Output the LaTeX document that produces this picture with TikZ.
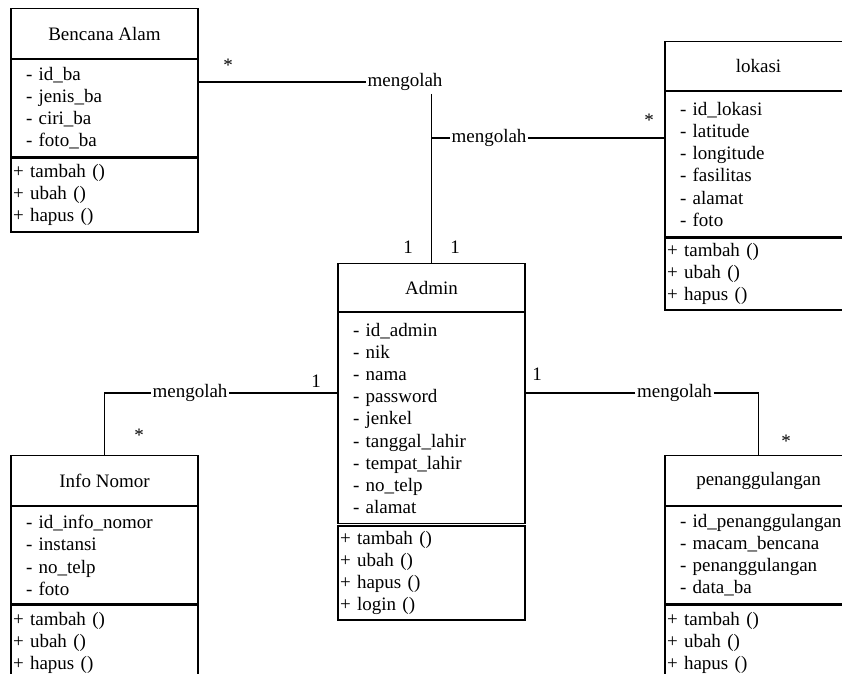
\documentclass[tikz,border=0pt]{standalone}
\usepackage{fontspec}
\setmainfont{Liberation Serif}
\usetikzlibrary{positioning}
\tikzset{
    classhead/.style = {rectangle, draw=black, line width=1.2pt, minimum width=187pt, minimum height=50pt, inner sep=0pt, anchor=north},
    classattr/.style = {rectangle, draw=black, line width=1.2pt, text width=157pt, inner xsep=15pt, inner ysep=0pt, align=left},
    classops/.style = {rectangle, draw=black, line width=1.2pt, text width=183pt, inner xsep=2pt, inner ysep=0pt, align=left},
    relname/.style = {inner xsep=1.5pt, inner ysep=3pt},
    mult/.style = {inner sep=0pt},
    edgen/.style = {-, line width=1.2pt, black},
}

\begin{document}
\begin{tikzpicture}[x=1pt, y=-1pt, font=\rmfamily\fontsize{19}{22.2}\selectfont]
  \useasboundingbox (0,0) rectangle (842,673);
  \clip (0,0) rectangle (842,673);

  % classes
  \node[classhead] (bencana) at (104.5,8) {Bencana Alam};
  \node[classattr, minimum height=97pt, below=0pt of bencana] (bencanaattr)
    {-~id\_ba\\ -~jenis\_ba\\ -~ciri\_ba\\ -~foto\_ba};
  \node[classops, minimum height=74pt, below=0pt of bencanaattr] (bencanaops)
    {+ tambah ()\\ + ubah ()\\ + hapus ()};

  \node[classhead, minimum height=49pt] (lokasi) at (758.5,41) {lokasi};
  \node[classattr, minimum height=145pt, below=0pt of lokasi] (lokasiattr)
    {-~id\_lokasi\\ -~latitude\\ -~longitude\\ -~fasilitas\\ -~alamat\\ -~foto};
  \node[classops, minimum height=72pt, below=0pt of lokasiattr] (lokasiops)
    {+ tambah ()\\ + ubah ()\\ + hapus ()};

  \node[classhead, minimum height=48pt] (admin) at (431.5,263) {Admin};
  \node[classattr, minimum height=211pt, below=0pt of admin] (adminattr)
    {-~id\_admin\\ -~nik\\ -~nama\\ -~password\\ -~jenkel\\ -~tanggal\_lahir\\ -~tempat\_lahir\\ -~no\_telp\\ -~alamat};
  \node[classops, minimum height=94pt, below=1pt of adminattr] (adminops)
    {+ tambah ()\\ + ubah ()\\ + hapus ()\\ + login ()};

  \node[classhead] (infonomor) at (104.5,455) {Info Nomor};
  \node[classattr, minimum height=97pt, below=0pt of infonomor] (infonomorattr)
    {-~id\_info\_nomor\\ -~instansi\\ -~no\_telp\\ -~foto};
  \node[classops, minimum height=76pt, below=0pt of infonomorattr] (infonomorops)
    {+ tambah ()\\ + ubah ()\\ + hapus ()};

  \node[classhead] (penanggulangan) at (758.5,455) {penanggulangan};
  \node[classattr, minimum height=97pt, below=0pt of penanggulangan] (penanggulanganattr)
    {\mbox{-~id\_penanggulangan}\\ -~macam\_bencana\\ -~penanggulangan\\ -~data\_ba};
  \node[classops, minimum height=76pt, below=0pt of penanggulanganattr] (penanggulanganops)
    {+ tambah ()\\ + ubah ()\\ + hapus ()};

  % relations
  \node[relname] (rel1) at (405,82) {mengolah};
  \node[relname] (rel2) at (489,138) {mengolah};
  \node[relname] (rel3) at (190,393) {mengolah};
  \node[relname] (rel4) at (674.5,393) {mengolah};

  \draw[edgen] (rel1.west -| bencanaattr.east) -- (rel1.west);
  \draw[edgen] (rel1.south -| admin.north) -- (admin.north);
  \draw[edgen] (admin.north) |- (rel2.west);
  \draw[edgen] (rel2.east) -- (rel2.east -| lokasiattr.west);
  \draw[edgen] (rel3.east) -- (rel3.east -| adminattr.west);
  \draw[edgen] (rel3.west) -| (infonomor.north);
  \draw[edgen] (rel4.west) -- (rel4.west -| adminattr.east);
  \draw[edgen] (rel4.east) -| (penanggulangan.north);

  % multiplicities
  \node[mult] (m1) at (228,65) {*};
  \node[mult] (m2) at (408,247) {1};
  \node[mult] (m3) at (455,247) {1};
  \node[mult] (m4) at (649,120) {*};
  \node[mult] (m5) at (316,381) {1};
  \node[mult] (m6) at (139,435) {*};
  \node[mult] (m7) at (537,374) {1};
  \node[mult] (m8) at (786,441) {*};
\end{tikzpicture}
\end{document}
